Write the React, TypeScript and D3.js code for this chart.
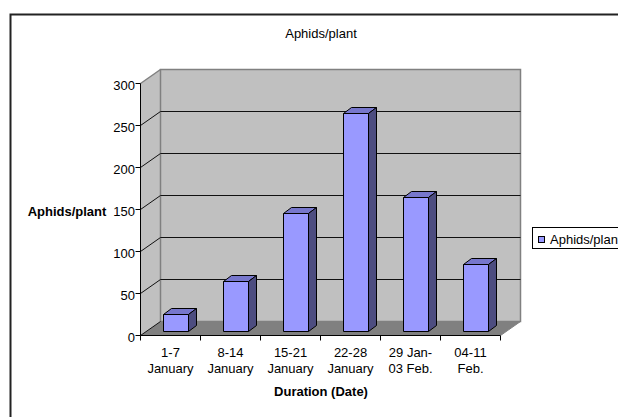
import React from "react";
import * as d3 from "d3";

const categories = [
  ["1-7", "January"],
  ["8-14", "January"],
  ["15-21", "January"],
  ["22-28", "January"],
  ["29 Jan-", "03 Feb."],
  ["04-11", "Feb."],
];
const aphids = [20, 60, 140, 260, 160, 80];
const yTicks = [0, 50, 100, 150, 200, 250, 300];

const font = "'Liberation Sans', Arial, sans-serif";
const fontSize = 13;
const depth = { dx: 20, dy: -14 };
const barDepth = { dx: 8, dy: -6 };

const x = d3.scaleBand<number>().domain(d3.range(categories.length)).range([140.5, 500.5]).paddingInner(0);
const y = d3.scaleLinear().domain([0, 300]).range([335.5, 83.5]);

const barWidth = 25;
const barOffset = 23;
const barLift = 4;

// snap to the middle of a pixel row so 1px lines stay sharp
const snap = (v: number) => Math.floor(v) + 0.5;

export default function App() {
  const x0 = x.range()[0];
  const x1 = x.range()[1];
  const y0 = y(0);
  const yTop = y(300);

  const barShapes = aphids.map((v, i) => {
    const l = x(i)! + barOffset;
    const r = l + barWidth;
    const b = y0 - barLift;
    const t = snap(y(v) - barLift);
    return { l, r, b, t, v };
  });

  return (
    <svg width={618} height={417} style={{ position: "absolute", left: 0, top: 0 }}>
      <rect width={618} height={417} fill="#fff" />
      {/* outer chart border */}
      <path d="M10.5,417V14.5H618" fill="none" stroke="#222" strokeWidth={2} />

      <text x={321} y={38} textAnchor="middle" fontFamily={font} fontSize={fontSize}>Aphids/plant</text>

      {/* 3d walls */}
      <polygon
        points={`${x0},${y0} ${x0 + depth.dx},${y0 + depth.dy} ${x0 + depth.dx},${yTop + depth.dy} ${x0},${yTop}`}
        fill="#c0c0c0"
      />
      <rect x={x0 + depth.dx} y={yTop + depth.dy} width={x1 - x0} height={y0 - yTop} fill="#c0c0c0" stroke="#808080" strokeWidth={1.5} />
      <polygon
        points={`${x0},${y0} ${x1},${y0} ${x1 + depth.dx},${y0 + depth.dy} ${x0 + depth.dx},${y0 + depth.dy}`}
        fill="#808080"
      />
      <path
        d={`M${x0},${yTop}L${x0 + depth.dx},${yTop + depth.dy}`}
        stroke="#808080"
        strokeWidth={1.5}
        fill="none"
      />

      {/* gridlines */}
      {yTicks.slice(1, -1).map((t) => (
        <path
          key={t}
          d={`M${x0},${snap(y(t))}L${x0 + depth.dx},${snap(y(t)) + depth.dy}H${x1 + depth.dx}`}
          fill="none"
          stroke="#111"
          strokeWidth={1}
        />
      ))}
      <path d={`M${x0},${y0}L${x0 + depth.dx},${y0 + depth.dy}`} stroke="#111" fill="none" />

      {/* bars */}
      {barShapes.map((s, i) => (
        <g key={i} stroke="#000" strokeWidth={1} strokeLinejoin="round">
          <polygon
            points={`${s.l},${s.t} ${s.r},${s.t} ${s.r + barDepth.dx},${s.t + barDepth.dy} ${s.l + barDepth.dx},${s.t + barDepth.dy}`}
            fill="#7777cc"
          />
          <polygon
            points={`${s.r},${s.t} ${s.r + barDepth.dx},${s.t + barDepth.dy} ${s.r + barDepth.dx},${s.b + barDepth.dy} ${s.r},${s.b}`}
            fill="#4d4d80"
          />
          <rect x={s.l} y={s.t} width={barWidth} height={s.b - s.t} fill="#9999ff" />
        </g>
      ))}

      {/* axes */}
      <path d={`M${x0},${yTop}V${y0}H${x1}`} fill="none" stroke="#000" strokeWidth={1} />
      <path d={`M${x1},${y0}L${x1 + depth.dx},${y0 + depth.dy}`} fill="none" stroke="#808080" />
      {yTicks.map((t) => (
        <g key={t}>
          <line x1={x0 - 5} x2={x0} y1={snap(y(t))} y2={snap(y(t))} stroke="#000" />
          <text x={x0 - 5.5} y={y(t) + 6} textAnchor="end" fontFamily={font} fontSize={fontSize}>{t}</text>
        </g>
      ))}
      {d3.range(categories.length + 1).map((i) => {
        const px = x0 + i * x.step();
        return <line key={i} x1={px} x2={px} y1={y0} y2={y0 + 5} stroke="#000" />;
      })}
      {categories.map((c, i) => (
        <text key={i} textAnchor="middle" fontFamily={font} fontSize={fontSize}>
          <tspan x={x(i)! + x.bandwidth() / 2} y={357}>{c[0]}</tspan>
          <tspan x={x(i)! + x.bandwidth() / 2} y={373}>{c[1]}</tspan>
        </text>
      ))}

      <text x={321} y={396} textAnchor="middle" fontFamily={font} fontSize={fontSize} fontWeight="bold">Duration (Date)</text>
      <text x={67} y={216} textAnchor="middle" fontFamily={font} fontSize={fontSize} fontWeight="bold">Aphids/plant</text>

      {/* legend, runs off the right edge */}
      <rect x={532.5} y={227.5} width={100} height={21} fill="#fff" stroke="#000" />
      <rect x={538.5} y={236.5} width={6} height={6} fill="#9999ff" stroke="#000" />
      <text x={550} y={244} fontFamily={font} fontSize={fontSize}>Aphids/plant</text>
    </svg>
  );
}
